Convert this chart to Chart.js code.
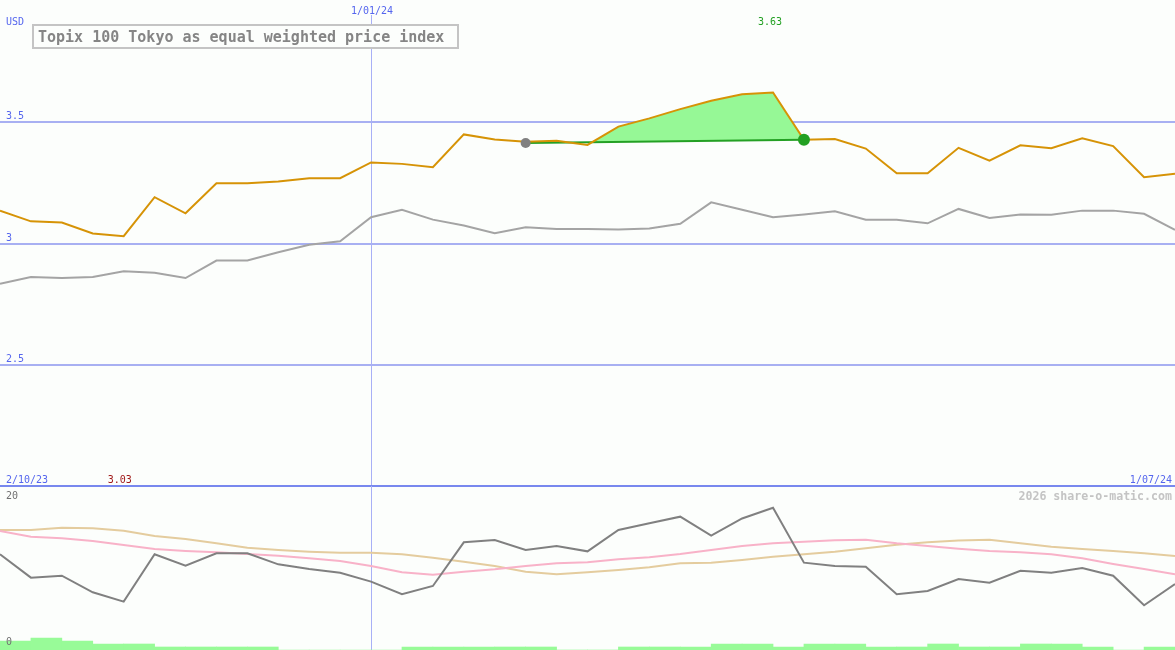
<!DOCTYPE html>
<html>
<head>
<meta charset="utf-8">
<script src="https://cdn.jsdelivr.net/npm/chart.js@4.4.1/dist/chart.umd.min.js"></script>
<style>
  body { margin: 0; background: #fcfefc; }
  #wrap { position: relative; width: 1175px; height: 650px; overflow: hidden; background: #fcfefc; }
  canvas { position: absolute; left: 0; }
  #priceChart { top: 0; }
  #oscChart { top: 486px; }
</style>
</head>
<body>
<div id="wrap">
  <canvas id="priceChart" width="1175" height="487"></canvas>
  <canvas id="oscChart" width="1175" height="164"></canvas>
</div>
<script>
// weekly closes, week 0 = left edge, week 38 = 1/07/24
const price = [3.135, 3.091, 3.086, 3.041, 3.030, 3.190, 3.124, 3.247, 3.247, 3.255,
  3.268, 3.268, 3.333, 3.327, 3.313, 3.448, 3.427, 3.418, 3.422, 3.405,
  3.480, 3.514, 3.552, 3.586, 3.613, 3.620, 3.426, 3.429, 3.390, 3.288,
  3.288, 3.393, 3.340, 3.403, 3.391, 3.432, 3.400, 3.272, 3.286];
const relative = [2.835, 2.862, 2.858, 2.862, 2.886, 2.880, 2.858, 2.930, 2.930, 2.964,
  2.995, 3.009, 3.108, 3.138, 3.098, 3.074, 3.042, 3.067, 3.060, 3.060,
  3.058, 3.062, 3.081, 3.169, 3.139, 3.108, 3.119, 3.132, 3.098, 3.098,
  3.083, 3.142, 3.105, 3.119, 3.118, 3.135, 3.135, 3.122, 3.056];
// trend segment between the two marked weeks
const trendWeeks = [17, 26];
const trendValues = [3.413, 3.426];

// lower panel
const momentum = [12.70, 9.50, 9.77, 7.49, 6.21, 12.70, 11.14, 12.83, 12.83, 11.32,
  10.68, 10.18, 8.95, 7.22, 8.36, 14.34, 14.66, 13.29, 13.84, 13.10,
  16.03, 16.94, 17.85, 15.25, 17.60, 19.08, 11.55, 11.10, 11.00, 7.22,
  7.67, 9.32, 8.81, 10.45, 10.18, 10.82, 9.77, 5.71, 8.63];
const avgFast = [15.89, 15.11, 14.89, 14.52, 13.97, 13.42, 13.15, 12.97, 12.74, 12.51,
  12.15, 11.78, 11.10, 10.23, 9.90, 10.32, 10.64, 11.10, 11.47, 11.60,
  12.01, 12.29, 12.74, 13.29, 13.84, 14.20, 14.43, 14.61, 14.70, 14.20,
  13.84, 13.47, 13.15, 12.97, 12.70, 12.15, 11.37, 10.68, 9.96];
const avgSlow = [16.03, 16.03, 16.34, 16.26, 15.93, 15.21, 14.79, 14.20, 13.60, 13.29,
  13.06, 12.92, 12.92, 12.70, 12.24, 11.69, 11.10, 10.32, 9.96, 10.25,
  10.55, 10.92, 11.47, 11.55, 11.92, 12.37, 12.70, 13.06, 13.52, 14.02,
  14.34, 14.57, 14.70, 14.20, 13.74, 13.42, 13.15, 12.83, 12.47];
const volume = [3, 4, 3, 2, 2, 1, 1, 1, 1, 0, 0, 0, 0, 1, 1, 1, 1, 1, 0, 0,
  1, 1, 1, 2, 2, 1, 2, 2, 1, 1, 2, 1, 1, 2, 2, 1, 0, 1];

const priceTicks = [2.5, 3, 3.5];
const oscTicks = [0, 20];
const janWeek = 12;
const janLabel = '1/01/24';
const startLabel = '2/10/23';
const endLabel = '1/07/24';
const highLabel = '3.63';
const lowLabel = '3.03';
const title = 'Topix 100 Tokyo as equal weighted price index';

const FONT = '"DejaVu Sans Mono", "Liberation Mono", monospace';
const BLUE = '#5566ee';

const pts = arr => arr.map((v, i) => ({ x: i, y: v }));

function text(ctx, s, x, y, color, font, align) {
  ctx.save();
  ctx.font = font || '10px ' + FONT;
  ctx.fillStyle = color;
  ctx.textAlign = align || 'left';
  ctx.textBaseline = 'alphabetic';
  ctx.fillText(s, x, y);
  ctx.restore();
}

function xScale() {
  return { type: 'linear', min: 0, max: 38, offset: false, display: false };
}

function janLine(chart, top) {
  const ctx = chart.ctx;
  const x = Math.round(chart.scales.x.getPixelForValue(janWeek)) + 0.5;
  ctx.save();
  ctx.strokeStyle = '#a8b0f6';
  ctx.lineWidth = 1;
  ctx.beginPath();
  ctx.moveTo(x, top);
  ctx.lineTo(x, chart.height);
  ctx.stroke();
  ctx.restore();
}

const priceDeco = {
  id: 'priceDeco',
  beforeDatasetsDraw(chart) {
    janLine(chart, 15);
  },
  afterDraw(chart) {
    const ctx = chart.ctx;
    const xs = chart.scales.x, ys = chart.scales.y;
    // panel separator
    ctx.fillStyle = '#7888ee';
    ctx.fillRect(0, 485, chart.width, 2);
    text(ctx, 'USD', 6, 24.5, BLUE);
    priceTicks.forEach(v => {
      text(ctx, String(v), 6, ys.getPixelForValue(v) - 3, BLUE);
    });
    text(ctx, janLabel, xs.getPixelForValue(janWeek) + 1, 13.5, BLUE, null, 'center');
    // title box
    ctx.save();
    ctx.fillStyle = '#fcfefc';
    ctx.fillRect(33, 25, 425, 23);
    ctx.strokeStyle = '#c4c4c4';
    ctx.lineWidth = 2;
    ctx.strokeRect(33, 25, 425, 23);
    ctx.restore();
    text(ctx, title, 38, 41.5, '#858585', 'bold 15px ' + FONT);
    // high / low
    const hi = price.indexOf(Math.max(...price));
    const lo = price.indexOf(Math.min(...price));
    text(ctx, highLabel, xs.getPixelForValue(hi) - 3, 25, '#22a022', null, 'center');
    text(ctx, lowLabel, xs.getPixelForValue(lo) - 4, 483, '#a01818', null, 'center');
    text(ctx, startLabel, 6, 483, BLUE);
    text(ctx, endLabel, 1172, 483, BLUE, null, 'right');
  }
};

new Chart(document.getElementById('priceChart'), {
  type: 'line',
  data: {
    datasets: [
      {
        data: trendWeeks.map((w, i) => ({ x: w, y: trendValues[i] })),
        showLine: false,
        pointRadius: [5, 6],
        pointBackgroundColor: ['#808080', '#22a022'],
        pointBorderWidth: 0
      },
      {
        data: pts(price),
        borderColor: '#d69306',
        borderWidth: 2,
        pointRadius: 0,
        fill: { target: 2, above: '#96f896', below: 'rgba(0,0,0,0)' }
      },
      {
        data: trendWeeks.map((w, i) => ({ x: w, y: trendValues[i] })),
        borderColor: '#24a024',
        borderWidth: 2,
        pointRadius: 0,
        fill: false
      },
      {
        data: pts(relative),
        borderColor: '#a4a4a4',
        borderWidth: 2,
        pointRadius: 0,
        fill: false
      }
    ]
  },
  options: {
    responsive: false,
    animation: false,
    devicePixelRatio: 1,
    events: [],
    layout: { padding: 0, autoPadding: false },
    elements: { line: { tension: 0 } },
    scales: {
      x: xScale(),
      y: {
        min: 2, max: 4,
        ticks: { display: false, stepSize: 0.5 },
        border: { display: false },
        grid: {
          drawTicks: false,
          lineWidth: 2,
          color: c => (c.tick.value === 2 || c.tick.value === 4) ? 'rgba(0,0,0,0)' : '#a8b0f2'
        },
        afterFit: s => { s.width = 0; }
      }
    },
    plugins: {
      legend: { display: false },
      tooltip: { enabled: false },
      filler: { drawTime: 'beforeDatasetsDraw' }
    }
  },
  plugins: [priceDeco]
});

const oscDeco = {
  id: 'oscDeco',
  beforeDatasetsDraw(chart) {
    janLine(chart, 0);
  },
  afterDraw(chart) {
    const ctx = chart.ctx;
    const ys = chart.scales.y;
    oscTicks.forEach(v => {
      text(ctx, String(v), 6, ys.getPixelForValue(v) - 2, '#707070');
    });
    text(ctx, '2026 share-o-matic.com', 1172, 14, '#c4c4c4', 'bold 11.6px ' + FONT, 'right');
  }
};

new Chart(document.getElementById('oscChart'), {
  type: 'line',
  data: {
    datasets: [
      { data: pts(momentum), borderColor: '#808080', borderWidth: 2, pointRadius: 0 },
      { data: pts(avgFast), borderColor: '#f8b2c8', borderWidth: 2, pointRadius: 0 },
      { data: pts(avgSlow), borderColor: '#e4cc9e', borderWidth: 2, pointRadius: 0 },
      {
        type: 'bar',
        data: volume.map((v, i) => ({ x: i + 0.5, y: v })),
        yAxisID: 'yv',
        backgroundColor: '#98fb98',
        borderWidth: 0,
        barPercentage: 1,
        categoryPercentage: 1
      }
    ]
  },
  options: {
    responsive: false,
    animation: false,
    devicePixelRatio: 1,
    events: [],
    layout: { padding: 0, autoPadding: false },
    elements: { line: { tension: 0 } },
    scales: {
      x: xScale(),
      y: { min: -0.41, max: 22.05, display: false },
      yv: { min: 0, max: 164 / 3, display: false }
    },
    plugins: {
      legend: { display: false },
      tooltip: { enabled: false }
    }
  },
  plugins: [oscDeco]
});
</script>
</body>
</html>
